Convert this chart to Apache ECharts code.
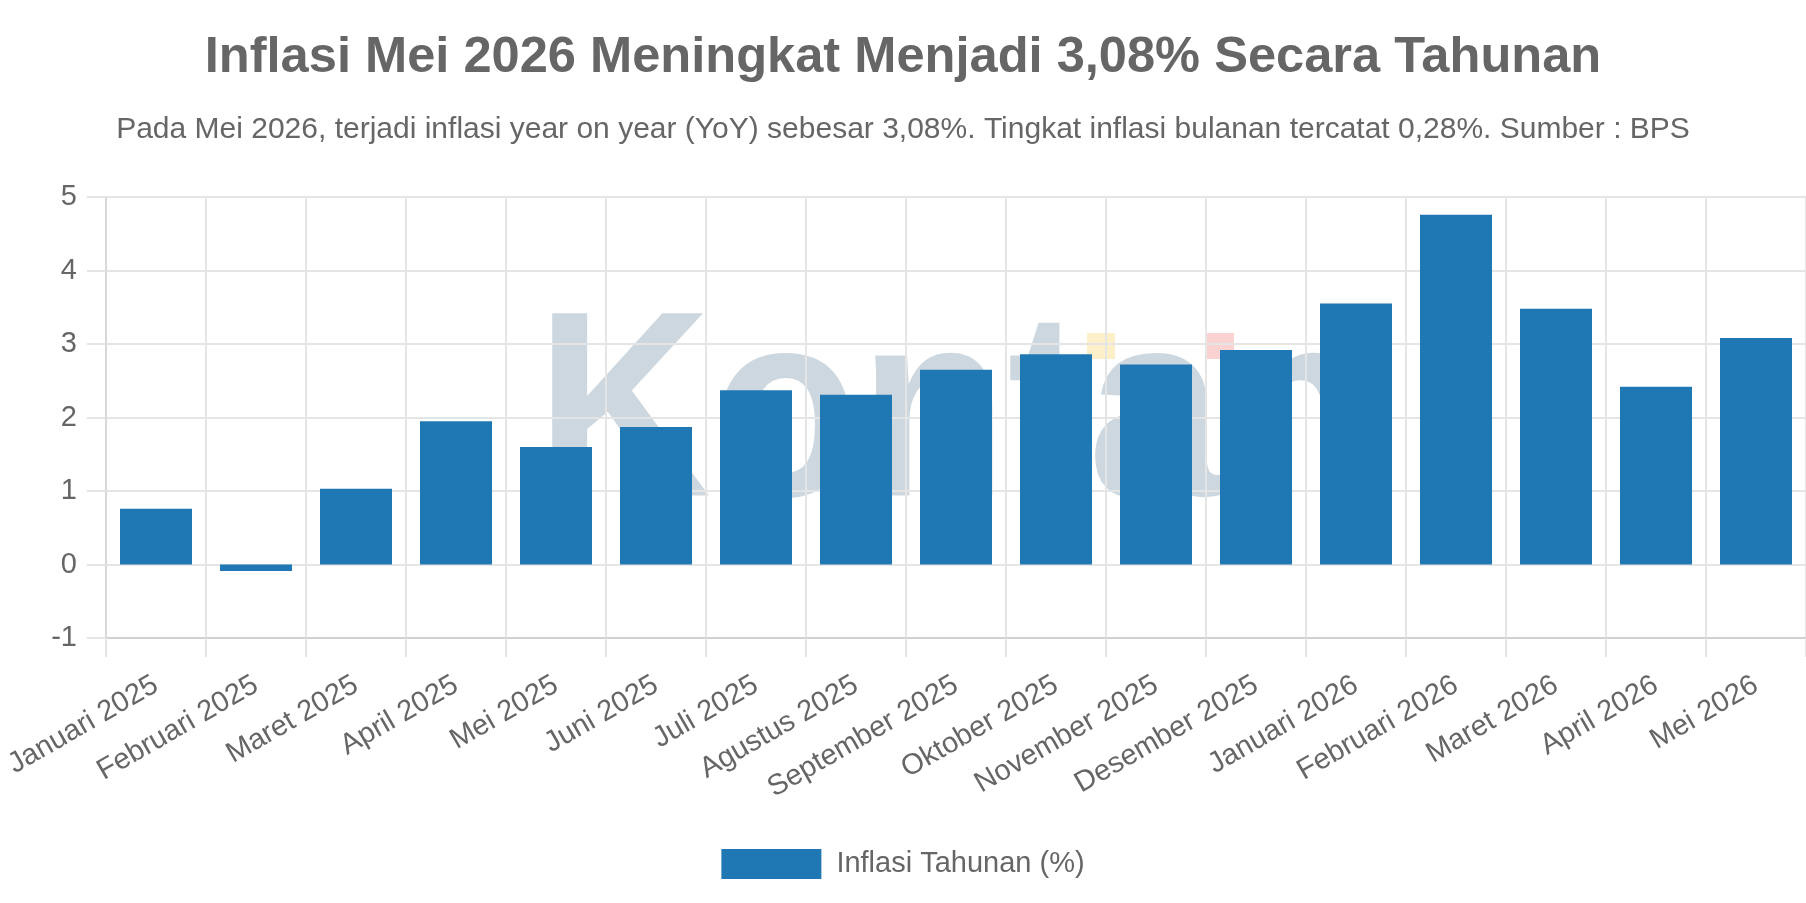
<!DOCTYPE html>
<html>
<head>
<meta charset="utf-8">
<title>Inflasi Tahunan</title>
<script src="https://cdn.jsdelivr.net/npm/echarts@6/dist/echarts.min.js"></script>
<style>
    html, body { margin: 0; padding: 0; background: #fff; }
    #chartContainer { width: 1806px; height: 903px; }
</style>
</head>
<body>
<div id="chartContainer"></div>
<script>
// データ
const bulan = [
    'Januari 2025', 'Februari 2025', 'Maret 2025', 'April 2025', 'Mei 2025',
    'Juni 2025', 'Juli 2025', 'Agustus 2025', 'September 2025', 'Oktober 2025',
    'November 2025', 'Desember 2025', 'Januari 2026', 'Februari 2026',
    'Maret 2026', 'April 2026', 'Mei 2026'
];
const inflasiTahunan = [
    0.76, -0.09, 1.03, 1.95, 1.60, 1.87, 2.37, 2.31, 2.65, 2.86,
    2.72, 2.92, 3.55, 4.76, 3.48, 2.42, 3.08
];
const yTicks = [-1, 0, 1, 2, 3, 4, 5];

const judul = 'Inflasi Mei 2026 Meningkat Menjadi 3,08% Secara Tahunan';
const subJudul = 'Pada Mei 2026, terjadi inflasi year on year (YoY) sebesar 3,08%. Tingkat inflasi bulanan tercatat 0,28%. Sumber : BPS';
const namaSeri = 'Inflasi Tahunan (%)';

const fontFamily = '"Liberation Sans", Arial, Helvetica, sans-serif';
const textColor = '#666';
const gridColor = '#e5e5e5';

const chart = echarts.init(document.getElementById('chartContainer'));

const option = {
    animation: false,
    textStyle: { fontFamily: fontFamily },
    title: [
        {
            text: judul,
            left: 'center',
            top: 28,
            textStyle: {
                fontSize: 50.6,
                fontWeight: 'bold',
                color: textColor,
                fontFamily: fontFamily,
                lineHeight: 50
            }
        },
        {
            text: subJudul,
            left: 'center',
            top: 110,
            textStyle: {
                fontSize: 30,
                fontWeight: 'normal',
                color: textColor,
                fontFamily: fontFamily,
                lineHeight: 30
            }
        }
    ],
    // 透かしロゴ
    graphic: [
        {
            type: 'text',
            z: -1,
            left: 536,
            top: 290,
            scaleX: 0.915,
            style: {
                text: 'Kontan',
                font: 'bold 265px "Liberation Sans", Arial, sans-serif',
                fill: '#ccd7df'
            }
        },
        {
            type: 'rect',
            z: -1,
            shape: { x: 1087, y: 333, width: 28, height: 26 },
            style: { fill: '#fdf0c8' }
        },
        {
            type: 'rect',
            z: -1,
            shape: { x: 1207, y: 333, width: 27, height: 26 },
            style: { fill: '#fbd2d2' }
        }
    ],
    legend: {
        data: [namaSeri],
        left: 'center',
        top: 844,
        icon: 'rect',
        itemWidth: 100,
        itemHeight: 30,
        textStyle: {
            fontSize: 29,
            color: textColor,
            padding: [0, 0, 0, 10]
        }
    },
    grid: {
        left: 106,
        right: 0,
        top: 197,
        bottom: 903 - 638,
        containLabel: false
    },
    xAxis: {
        type: 'category',
        data: bulan,
        boundaryGap: true,
        axisLine: { onZero: false, lineStyle: { color: '#d0d0d0', width: 2 } },
        axisTick: { show: true, length: 19, lineStyle: { color: gridColor, width: 2 } },
        splitLine: { show: true, lineStyle: { color: gridColor, width: 2 } },
        axisLabel: {
            rotate: 30,
            interval: 0,
            margin: 45,
            fontSize: 29,
            color: textColor
        }
    },
    yAxis: {
        type: 'value',
        min: yTicks[0],
        max: yTicks[yTicks.length - 1],
        interval: 1,
        axisLine: { show: true, lineStyle: { color: '#d8d8d8', width: 2 } },
        axisTick: { show: true, length: 19, lineStyle: { color: gridColor, width: 2 } },
        splitLine: { show: true, lineStyle: { color: gridColor, width: 2 } },
        axisLabel: {
            margin: 29,
            fontSize: 29,
            color: textColor
        }
    },
    series: [
        {
            name: namaSeri,
            type: 'bar',
            data: inflasiTahunan,
            barWidth: '72%',
            itemStyle: { color: '#1f77b4' }
        }
    ]
};

chart.setOption(option);

window.addEventListener('resize', function () {
    chart.resize();
});
</script>
</body>
</html>
